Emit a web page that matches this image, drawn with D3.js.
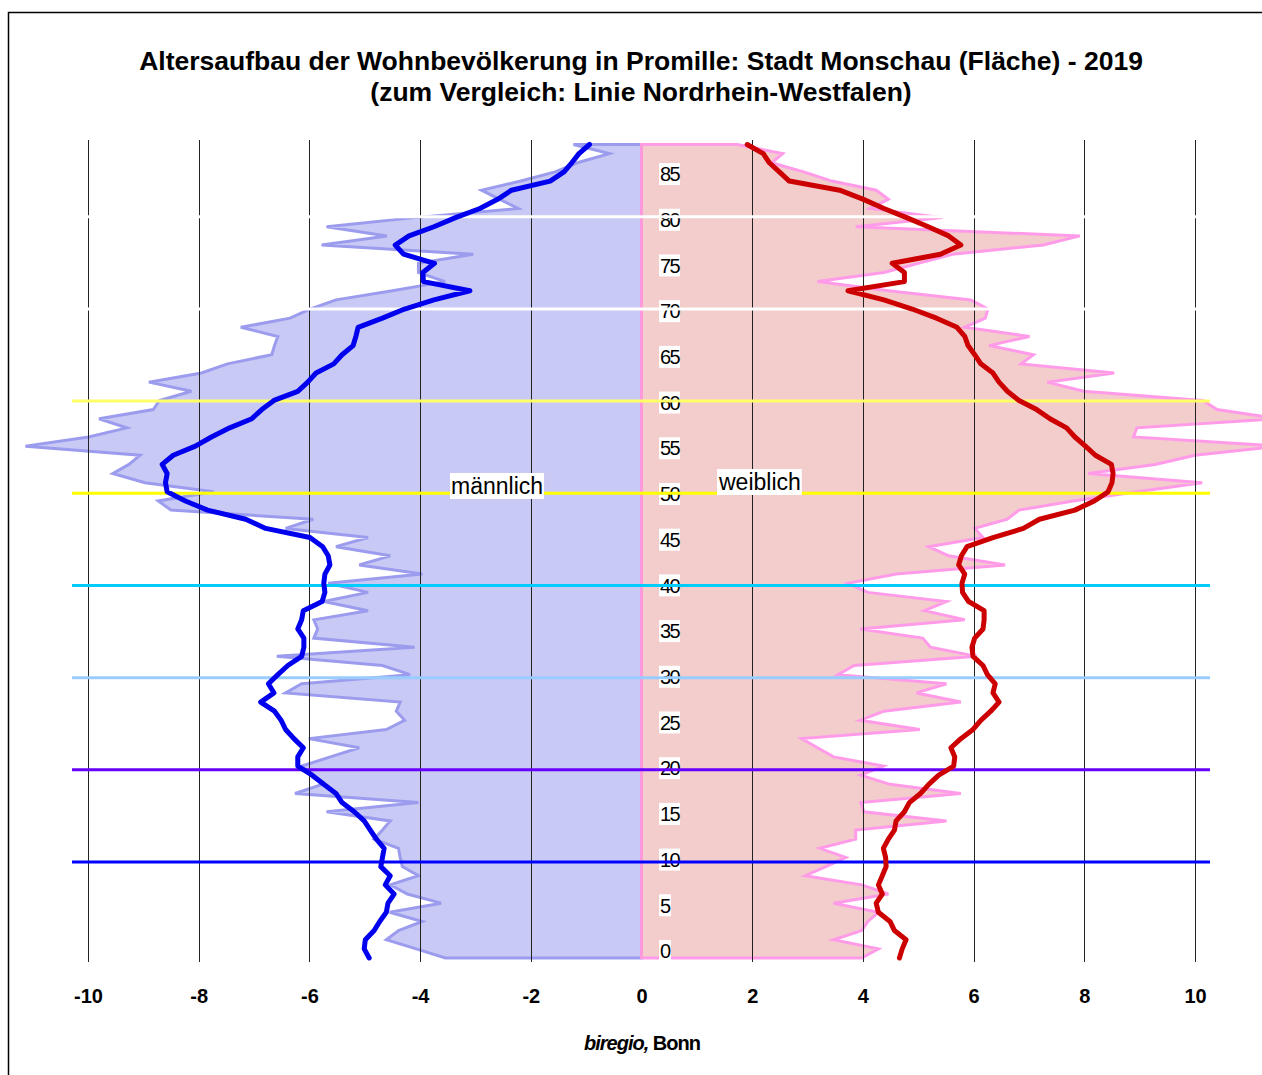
<!DOCTYPE html>
<html>
<head>
<meta charset="utf-8">
<script src="https://cdn.jsdelivr.net/npm/d3@7/dist/d3.min.js"></script>
<style>
  body { margin: 0; background: #fff; }
  text { font-family: Arial, "Liberation Sans", sans-serif; }
</style>
</head>
<body>
<svg id="chart"></svg>
<script>
// age groups 0..89 (one point per year of age)
var ages = d3.range(0, 90);

// Stadt Monschau, per mille, men (plotted to the left)
var maleMonschau = [
  3.54, 4.07, 4.61, 4.39, 3.96, 4.55, 3.62, 4.23, 4.54, 4.03,
  4.32, 4.36, 4.39, 4.83, 4.68, 4.54, 5.69, 4.03, 6.26, 5.77,
  5.95, 6.14, 5.62, 5.10, 6.01, 4.61, 4.28, 4.43, 4.36, 6.43,
  6.14, 4.18, 4.68, 6.59, 4.10, 5.92, 5.85, 5.92, 4.94, 5.74,
  4.94, 5.66, 3.96, 5.10, 4.54, 5.52, 4.94, 6.43, 5.93, 8.50,
  8.73, 7.73, 8.97, 9.55, 9.26, 9.06, 11.13, 9.99, 9.30, 9.80,
  8.82, 8.71, 8.13, 8.90, 7.95, 7.48, 6.68, 6.63, 6.57, 7.24,
  6.35, 5.99, 5.52, 4.50, 3.55, 4.03, 4.03, 3.04, 5.78, 4.60,
  5.69, 4.10, 2.23, 2.56, 2.89, 2.18, 1.56, 1.16, 0.58, 1.23
];

// Nordrhein-Westfalen, per mille, men
var maleNRW = [
  4.92, 5.01, 4.99, 4.83, 4.73, 4.61, 4.58, 4.47, 4.63, 4.54,
  4.71, 4.68, 4.65, 4.79, 4.90, 5.01, 5.19, 5.41, 5.52, 5.74,
  5.95, 6.21, 6.21, 6.11, 6.28, 6.43, 6.51, 6.63, 6.88, 6.64,
  6.74, 6.57, 6.39, 6.14, 6.10, 6.10, 6.21, 6.14, 6.11, 5.77,
  5.72, 5.74, 5.72, 5.63, 5.66, 5.76, 5.99, 6.79, 7.15, 7.84,
  8.24, 8.57, 8.60, 8.57, 8.66, 8.46, 8.06, 7.77, 7.44, 7.04,
  6.86, 6.64, 6.21, 6.03, 5.88, 5.56, 5.41, 5.21, 5.16, 5.12,
  4.68, 4.28, 3.75, 3.10, 3.94, 3.95, 3.74, 4.30, 4.45, 4.20,
  3.75, 3.36, 2.92, 2.60, 2.35, 1.65, 1.40, 1.26, 1.13, 0.94
];

// Stadt Monschau, per mille, women (plotted to the right)
var femaleMonschau = [
  3.98, 4.28, 3.47, 3.98, 4.09, 4.28, 3.47, 4.46, 3.98, 2.96,
  3.33, 3.69, 3.22, 3.87, 3.87, 5.51, 4.02, 3.96, 5.77, 4.49,
  3.96, 4.37, 3.47, 3.18, 2.89, 5.03, 3.95, 4.38, 5.77, 4.97,
  5.51, 3.55, 3.84, 6.06, 5.22, 5.08, 3.95, 5.84, 5.11, 5.51,
  4.09, 3.73, 4.60, 6.57, 5.55, 5.19, 6.17, 6.02, 6.61, 6.82,
  7.80, 8.95, 10.13, 8.07, 9.28, 10.0, 11.5, 8.89, 8.95, 11.5,
  10.40, 10.14, 7.99, 7.33, 8.54, 6.86, 7.08, 6.28, 7.01, 5.84,
  6.21, 6.26, 5.95, 4.46, 3.18, 4.38, 5.00, 5.62, 7.26, 7.92,
  3.87, 5.44, 4.13, 4.46, 4.24, 3.44, 2.93, 2.35, 2.55, 1.73
];

// Nordrhein-Westfalen, per mille, women
var femaleNRW = [
  4.66, 4.71, 4.78, 4.57, 4.49, 4.28, 4.24, 4.35, 4.28, 4.35,
  4.42, 4.41, 4.37, 4.46, 4.57, 4.60, 4.75, 4.84, 5.04, 5.19,
  5.37, 5.64, 5.66, 5.59, 5.77, 5.99, 6.13, 6.31, 6.46, 6.35,
  6.39, 6.25, 6.17, 5.99, 5.97, 6.02, 6.17, 6.19, 6.19, 5.91,
  5.80, 5.79, 5.84, 5.73, 5.78, 5.88, 6.35, 6.90, 7.19, 7.83,
  8.18, 8.43, 8.50, 8.52, 8.49, 8.20, 8.02, 7.83, 7.68, 7.38,
  7.14, 6.82, 6.61, 6.46, 6.35, 6.13, 6.02, 5.90, 5.84, 5.70,
  5.33, 4.89, 4.38, 3.73, 4.75, 4.75, 4.53, 5.40, 5.77, 5.55,
  5.18, 4.79, 4.38, 4.01, 3.58, 2.67, 2.49, 2.31, 2.20, 1.91
];

// tick labels
var xTicks = [-10, -8, -6, -4, -2, 0, 2, 4, 6, 8, 10];
var ageLabels = [0, 5, 10, 15, 20, 25, 30, 35, 40, 45, 50, 55, 60, 65, 70, 75, 80, 85];

// coloured marker lines every 10 years
var refAges = [10, 20, 30, 40, 50, 60, 70, 80];
var refColors = ["#0000ff", "#6600ff", "#99ccff", "#00ccff", "#ffff00", "#ffff66", "#ffffff", "#ffffff"];

var title1 = "Altersaufbau der Wohnbevölkerung in Promille: Stadt Monschau (Fläche) - 2019";
var title2 = "(zum Vergleich: Linie Nordrhein-Westfalen)";

var width = 1262, height = 1075;

var svg = d3.select("#chart")
    .attr("width", width)
    .attr("height", height);

// scales
var x = d3.scaleLinear().domain([-10, 10]).range([88, 1195]);
var y = d3.scaleLinear().domain([0, 89]).range([958, 144.5]);
// the marker lines live on a slightly different (secondary) axis
var yRef = d3.scaleLinear().domain([10, 80]).range([862, 216.7]);

// outer frame (only top and left edge are in the picture)
svg.append("rect")
    .attr("x", 8.5)
    .attr("y", 12.5)
    .attr("width", 1400)
    .attr("height", 1200)
    .attr("fill", "none")
    .attr("stroke", "#000")
    .attr("stroke-width", 1.5);

// title
svg.append("text")
    .attr("x", 641)
    .attr("y", 70)
    .attr("text-anchor", "middle")
    .style("font-size", "26.5px")
    .style("font-weight", "bold")
    .text(title1);
svg.append("text")
    .attr("x", 641)
    .attr("y", 101)
    .attr("text-anchor", "middle")
    .style("font-size", "26.5px")
    .style("font-weight", "bold")
    .text(title2);

// areas for Monschau
var maleArea = d3.area()
    .x0(x(0))
    .x1(function(d) { return x(-maleMonschau[d]); })
    .y(function(d) { return y(d); });

var femaleArea = d3.area()
    .x0(x(0))
    .x1(function(d) { return x(femaleMonschau[d]); })
    .y(function(d) { return y(d); });

svg.append("path")
    .datum(ages)
    .attr("d", maleArea)
    .attr("fill", "#c9c9f6")
    .attr("stroke", "#9c9cee")
    .attr("stroke-width", 3)
    .attr("stroke-linejoin", "miter");

svg.append("path")
    .datum(ages)
    .attr("d", femaleArea)
    .attr("fill", "#f3cccc")
    .attr("stroke", "#ff9be8")
    .attr("stroke-width", 3);

// vertical grid + x tick labels
var xAxis = svg.append("g")
    .attr("transform", "translate(0,962)")
    .call(d3.axisBottom(x)
        .tickValues(xTicks)
        .tickSize(-822)
        .tickPadding(27)
        .tickFormat(function(d) { return String(d); }));
xAxis.select(".domain").remove();
xAxis.selectAll("line")
    .attr("stroke", "#222")
    .attr("shape-rendering", "crispEdges")
    .attr("stroke-opacity", function(d) { return d === 0 ? 0 : 1; });
xAxis.selectAll("text")
    .attr("fill", "#000")
    .style("font-size", "20px")
    .style("font-weight", "bold")
    .style("font-family", "Arial, 'Liberation Sans', sans-serif");

// pink zero line
svg.append("line")
    .attr("x1", x(0))
    .attr("x2", x(0))
    .attr("y1", y(89))
    .attr("y2", y(0))
    .attr("stroke", "#ff99dd")
    .attr("stroke-width", 3);

// age labels with white boxes
var lab = svg.selectAll(".agelab")
    .data(ageLabels)
    .enter()
    .append("g")
    .attr("class", "agelab")
    .attr("transform", function(d) { return "translate(660," + (y(d) - 7) + ")"; });
lab.append("rect")
    .attr("x", -1)
    .attr("y", -11)
    .attr("width", function(d) { return d < 10 ? 12 : 21; })
    .attr("height", 22)
    .attr("fill", "#fff");
lab.append("text")
    .attr("dy", "0.36em")
    .style("font-size", "20px")
    .style("letter-spacing", "-1.5px")
    .text(function(d) { return d; });

// coloured marker lines
svg.selectAll(".refline")
    .data(refAges)
    .enter()
    .append("line")
    .attr("class", "refline")
    .attr("x1", 72)
    .attr("x2", 1210)
    .attr("y1", function(d) { return yRef(d); })
    .attr("y2", function(d) { return yRef(d); })
    .attr("stroke", function(d, i) { return refColors[i]; })
    .attr("stroke-width", 3);

// comparison lines NRW
var maleLine = d3.line()
    .x(function(d) { return x(-maleNRW[d]); })
    .y(function(d) { return y(d); });
var femaleLine = d3.line()
    .x(function(d) { return x(femaleNRW[d]); })
    .y(function(d) { return y(d); });

svg.append("path")
    .datum(ages)
    .attr("d", maleLine)
    .attr("fill", "none")
    .attr("stroke", "#0000ee")
    .attr("stroke-width", 5)
    .attr("stroke-linejoin", "round")
    .attr("stroke-linecap", "round");

svg.append("path")
    .datum(ages)
    .attr("d", femaleLine)
    .attr("fill", "none")
    .attr("stroke", "#cc0000")
    .attr("stroke-width", 5)
    .attr("stroke-linejoin", "round")
    .attr("stroke-linecap", "round");

// sex labels
function boxLabel(tx, ty, txt) {
  var g = svg.append("g");
  var t = g.append("text")
      .attr("x", tx)
      .attr("y", ty)
      .style("font-size", "23px")
      .text(txt);
  var bb = t.node().getBBox();
  g.insert("rect", "text")
      .attr("x", bb.x - 1)
      .attr("y", bb.y)
      .attr("width", bb.width + 2)
      .attr("height", bb.height)
      .attr("fill", "#fff");
}
boxLabel(451, 494, "männlich");
boxLabel(719, 490, "weiblich");

// source
var src = svg.append("text")
    .attr("x", 642)
    .attr("y", 1050)
    .attr("text-anchor", "middle")
    .style("font-size", "20px")
    .style("font-weight", "bold")
    .style("letter-spacing", "-1px");
src.append("tspan").style("font-style", "italic").text("biregio,");
src.append("tspan").text(" Bonn");
</script>
</body>
</html>
